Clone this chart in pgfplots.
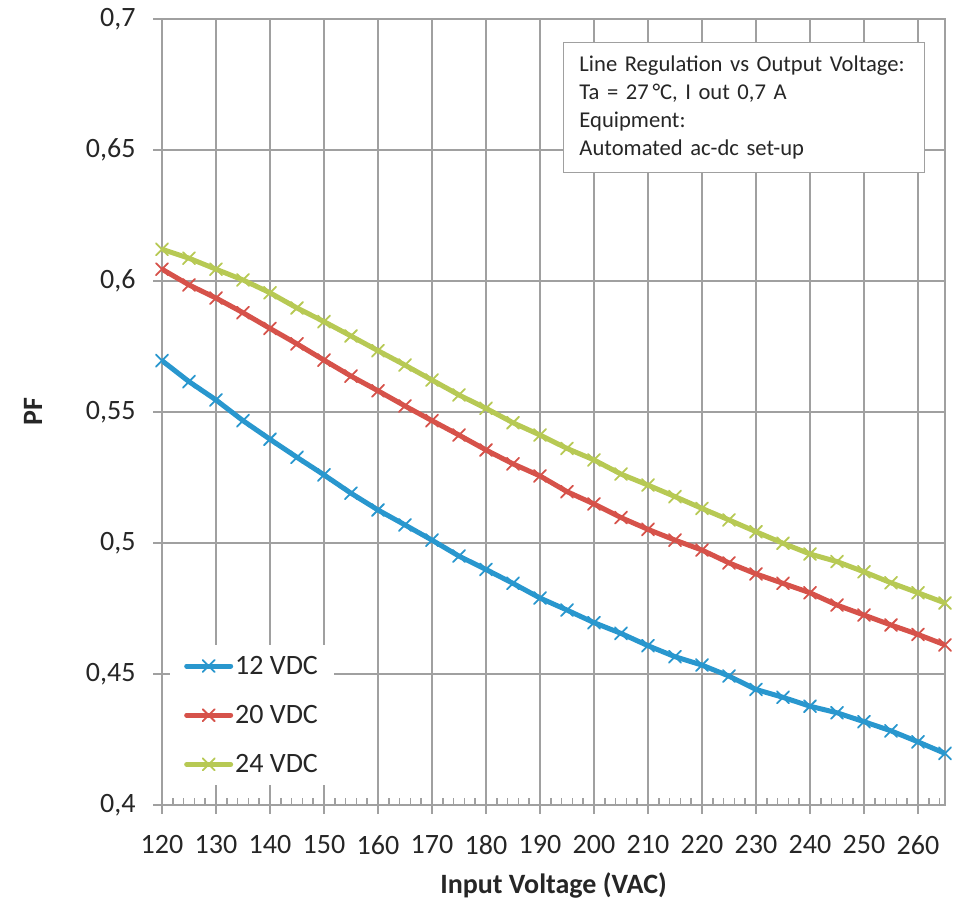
\documentclass[border=0pt]{standalone}
\usepackage{pgfplots}
\pgfplotsset{compat=1.18}
\usepackage{fontspec}
\setmainfont{Carlito}
\definecolor{gridgray}{RGB}{160,160,160}
\definecolor{cblue}{RGB}{41,151,206}
\definecolor{cred}{RGB}{214,82,74}
\definecolor{cgreen}{RGB}{183,201,84}
\definecolor{txt}{RGB}{38,38,38}
\begin{document}
\begin{tikzpicture}
\begin{axis}[name=ax, scale only axis, width=783pt, height=786pt,
  xmin=120, xmax=265, ymin=0.4, ymax=0.7,
  xtick={120,130,...,260},
  ytick={0.4,0.45,0.5,0.55,0.6,0.65,0.7},
  minor xtick={122,124,...,264},
  grid=major,
  major grid style={gridgray, line width=2pt},
  axis line style={gridgray, line width=2pt},
  tick style={gridgray, line width=2pt},
  minor tick style={gridgray, line width=1.5pt},
  tick align=outside, major tick length=9pt, minor tick length=-7pt,
  xtick pos=left, ytick pos=left,
  ticklabel style={font=\fontsize{28}{34}\selectfont, text=txt},
  xticklabel style={yshift=-18pt},
  yticklabel style={xshift=-14pt},
  /pgf/number format/.cd, use comma, fixed, precision=2, 1000 sep={}, assume math mode=true,
  /pgfplots/.cd,
  xlabel={\textbf{Input Voltage (VAC)}},
  ylabel={\textbf{PF}},
  xlabel style={at={(axis description cs:0.5,-0.1018)}, anchor=center, font=\fontsize{28}{34}\selectfont, text=txt},
  ylabel style={at={(axis description cs:-0.1648,0.5)}, anchor=center, font=\fontsize{28}{34}\selectfont, text=txt},
  legend style={at={(0.0102,0.2036)}, anchor=north west, draw=none, fill=white,
    font=\fontsize{28}{34}\selectfont, text=txt, inner xsep=14pt, inner ysep=8pt,
    row sep=23.5pt, nodes={inner xsep=2pt, inner ysep=3pt}},
  legend cell align=left,
  legend image code/.code={\draw[mark repeat=2,mark phase=2] plot coordinates {(0pt,0pt) (22pt,0pt) (44pt,0pt)};},
  every axis plot/.append style={line width=5pt, line cap=round, line join=round, mark=x, mark size=8.5pt, mark options={line width=1.8pt, solid}},
]
\addplot[cblue] coordinates {
(120,0.5696) (125,0.5616) (130,0.5546) (135,0.5467) (140,0.5396) (145,0.5327)
(150,0.5260) (155,0.5190) (160,0.5126) (165,0.5069) (170,0.5011) (175,0.4950)
(180,0.4899) (185,0.4846) (190,0.4790) (195,0.4744) (200,0.4696) (205,0.4655)
(210,0.4608) (215,0.4566) (220,0.4534) (225,0.4492) (230,0.4441) (235,0.4411)
(240,0.4377) (245,0.4352) (250,0.4318) (255,0.4283) (260,0.4241) (265,0.4197)};
\addlegendentry{12 VDC}
\addplot[cred] coordinates {
(120,0.6045) (125,0.5985) (130,0.5935) (135,0.5879) (140,0.5819) (145,0.5760)
(150,0.5698) (155,0.5637) (160,0.5581) (165,0.5523) (170,0.5467) (175,0.5412)
(180,0.5355) (185,0.5302) (190,0.5256) (195,0.5196) (200,0.5149) (205,0.5097)
(210,0.5052) (215,0.5011) (220,0.4973) (225,0.4924) (230,0.4882) (235,0.4846)
(240,0.4810) (245,0.4763) (250,0.4725) (255,0.4687) (260,0.4651) (265,0.4611)};
\addlegendentry{20 VDC}
\addplot[cgreen] coordinates {
(120,0.6121) (125,0.6087) (130,0.6045) (135,0.6004) (140,0.5955) (145,0.5897)
(150,0.5845) (155,0.5790) (160,0.5734) (165,0.5679) (170,0.5622) (175,0.5565)
(180,0.5514) (185,0.5459) (190,0.5412) (195,0.5361) (200,0.5317) (205,0.5263)
(210,0.5221) (215,0.5177) (220,0.5132) (225,0.5088) (230,0.5043) (235,0.4999)
(240,0.4958) (245,0.4929) (250,0.4890) (255,0.4848) (260,0.4810) (265,0.4771)};
\addlegendentry{24 VDC}
\node[draw=gridgray, line width=1pt, fill=white, anchor=north west, align=left,
  text width=329pt, inner xsep=16pt, inner ysep=0pt, minimum height=130.5pt,
  font=\fontsize{22.6}{28.3}\selectfont, text=txt]
  at (axis description cs:0.5121,0.9711)
  {Line Regulation vs Output Voltage:\\ Ta = 27\,°C, I out 0,7 A\\ Equipment:\\ Automated ac-dc set-up};
\end{axis}
\path ([xshift=-162pt,yshift=-96pt]ax.south west) rectangle ([xshift=10pt,yshift=19pt]ax.north east);
\end{tikzpicture}
\end{document}
